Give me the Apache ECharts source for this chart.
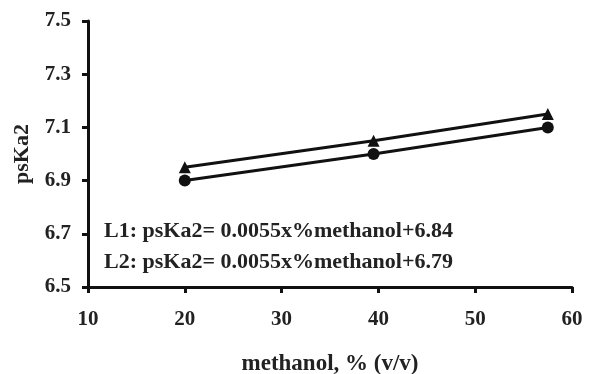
<!DOCTYPE html>
<html><head><meta charset="utf-8">
<script src="https://cdn.jsdelivr.net/npm/echarts@6/dist/echarts.min.js"></script>
<style>html,body{margin:0;padding:0;background:#fff}#c{width:598px;height:374px}</style>
</head><body><div id="c"></div>
<script>
var methanol = [20, 39.5, 57.5];
var seriesL1 = [6.95, 7.05, 7.15];
var seriesL2 = [6.90, 7.00, 7.10];
var xTicks = [10, 20, 30, 40, 50, 60];
var yTicks = [6.5, 6.7, 6.9, 7.1, 7.3, 7.5];
var eqLabels = ['L1: psKa2= 0.0055x%methanol+6.84', 'L2: psKa2= 0.0055x%methanol+6.79'];

var font = 'Liberation Serif';
var chart = echarts.init(document.getElementById('c'), null, {renderer: 'canvas'});
function pairs(xs, ys){ return xs.map(function(x,i){ return [x, ys[i]]; }); }
chart.setOption({
  animation: false,
  backgroundColor: '#fff',
  grid: {left: 88, right: 26, top: 21, bottom: 87, containLabel: false, outerBoundsMode: 'none'},
  xAxis: {
    type: 'value', min: xTicks[0], max: xTicks[xTicks.length-1], interval: 10,
    name: 'methanol, % (v/v)', nameLocation: 'middle', nameGap: 66,
    nameTextStyle: {fontFamily: font, fontWeight: 'bold', fontSize: 23, color: '#222'},
    axisLine: {lineStyle: {color: '#111', width: 3}},
    axisTick: {show: true, inside: false, length: 6, lineStyle: {color: '#111', width: 3}},
    axisLabel: {fontFamily: font, fontWeight: 'bold', fontSize: 21, color: '#222', margin: 22},
    splitLine: {show: false}
  },
  yAxis: {
    type: 'value', min: yTicks[0], max: yTicks[yTicks.length-1], interval: 0.2,
    name: 'psKa2', nameLocation: 'middle', nameGap: 55, nameRotate: 90,
    nameTextStyle: {fontFamily: font, fontWeight: 'bold', fontSize: 22, color: '#222'},
    axisLine: {lineStyle: {color: '#111', width: 3}},
    axisTick: {show: true, inside: false, length: 6, lineStyle: {color: '#111', width: 3}},
    axisLabel: {fontFamily: font, fontWeight: 'bold', fontSize: 21, color: '#222', margin: 17,
      formatter: function(v){ return v.toFixed(1); }},
    splitLine: {show: false}
  },
  series: [
    {type: 'line', name: 'L1', data: pairs(methanol, seriesL1), symbol: 'triangle', symbolSize: 12,
     lineStyle: {color: '#111', width: 3}, itemStyle: {color: '#111'}},
    {type: 'line', name: 'L2', data: pairs(methanol, seriesL2), symbol: 'circle', symbolSize: 12,
     lineStyle: {color: '#111', width: 3}, itemStyle: {color: '#111'}}
  ],
  graphic: [
    {type: 'text', left: 104, top: 220, style: {text: eqLabels[0], font: 'bold 22px "Liberation Serif"', fill: '#222'}},
    {type: 'text', left: 104, top: 251, style: {text: eqLabels[1], font: 'bold 22px "Liberation Serif"', fill: '#222'}}
  ]
});
</script></body></html>
